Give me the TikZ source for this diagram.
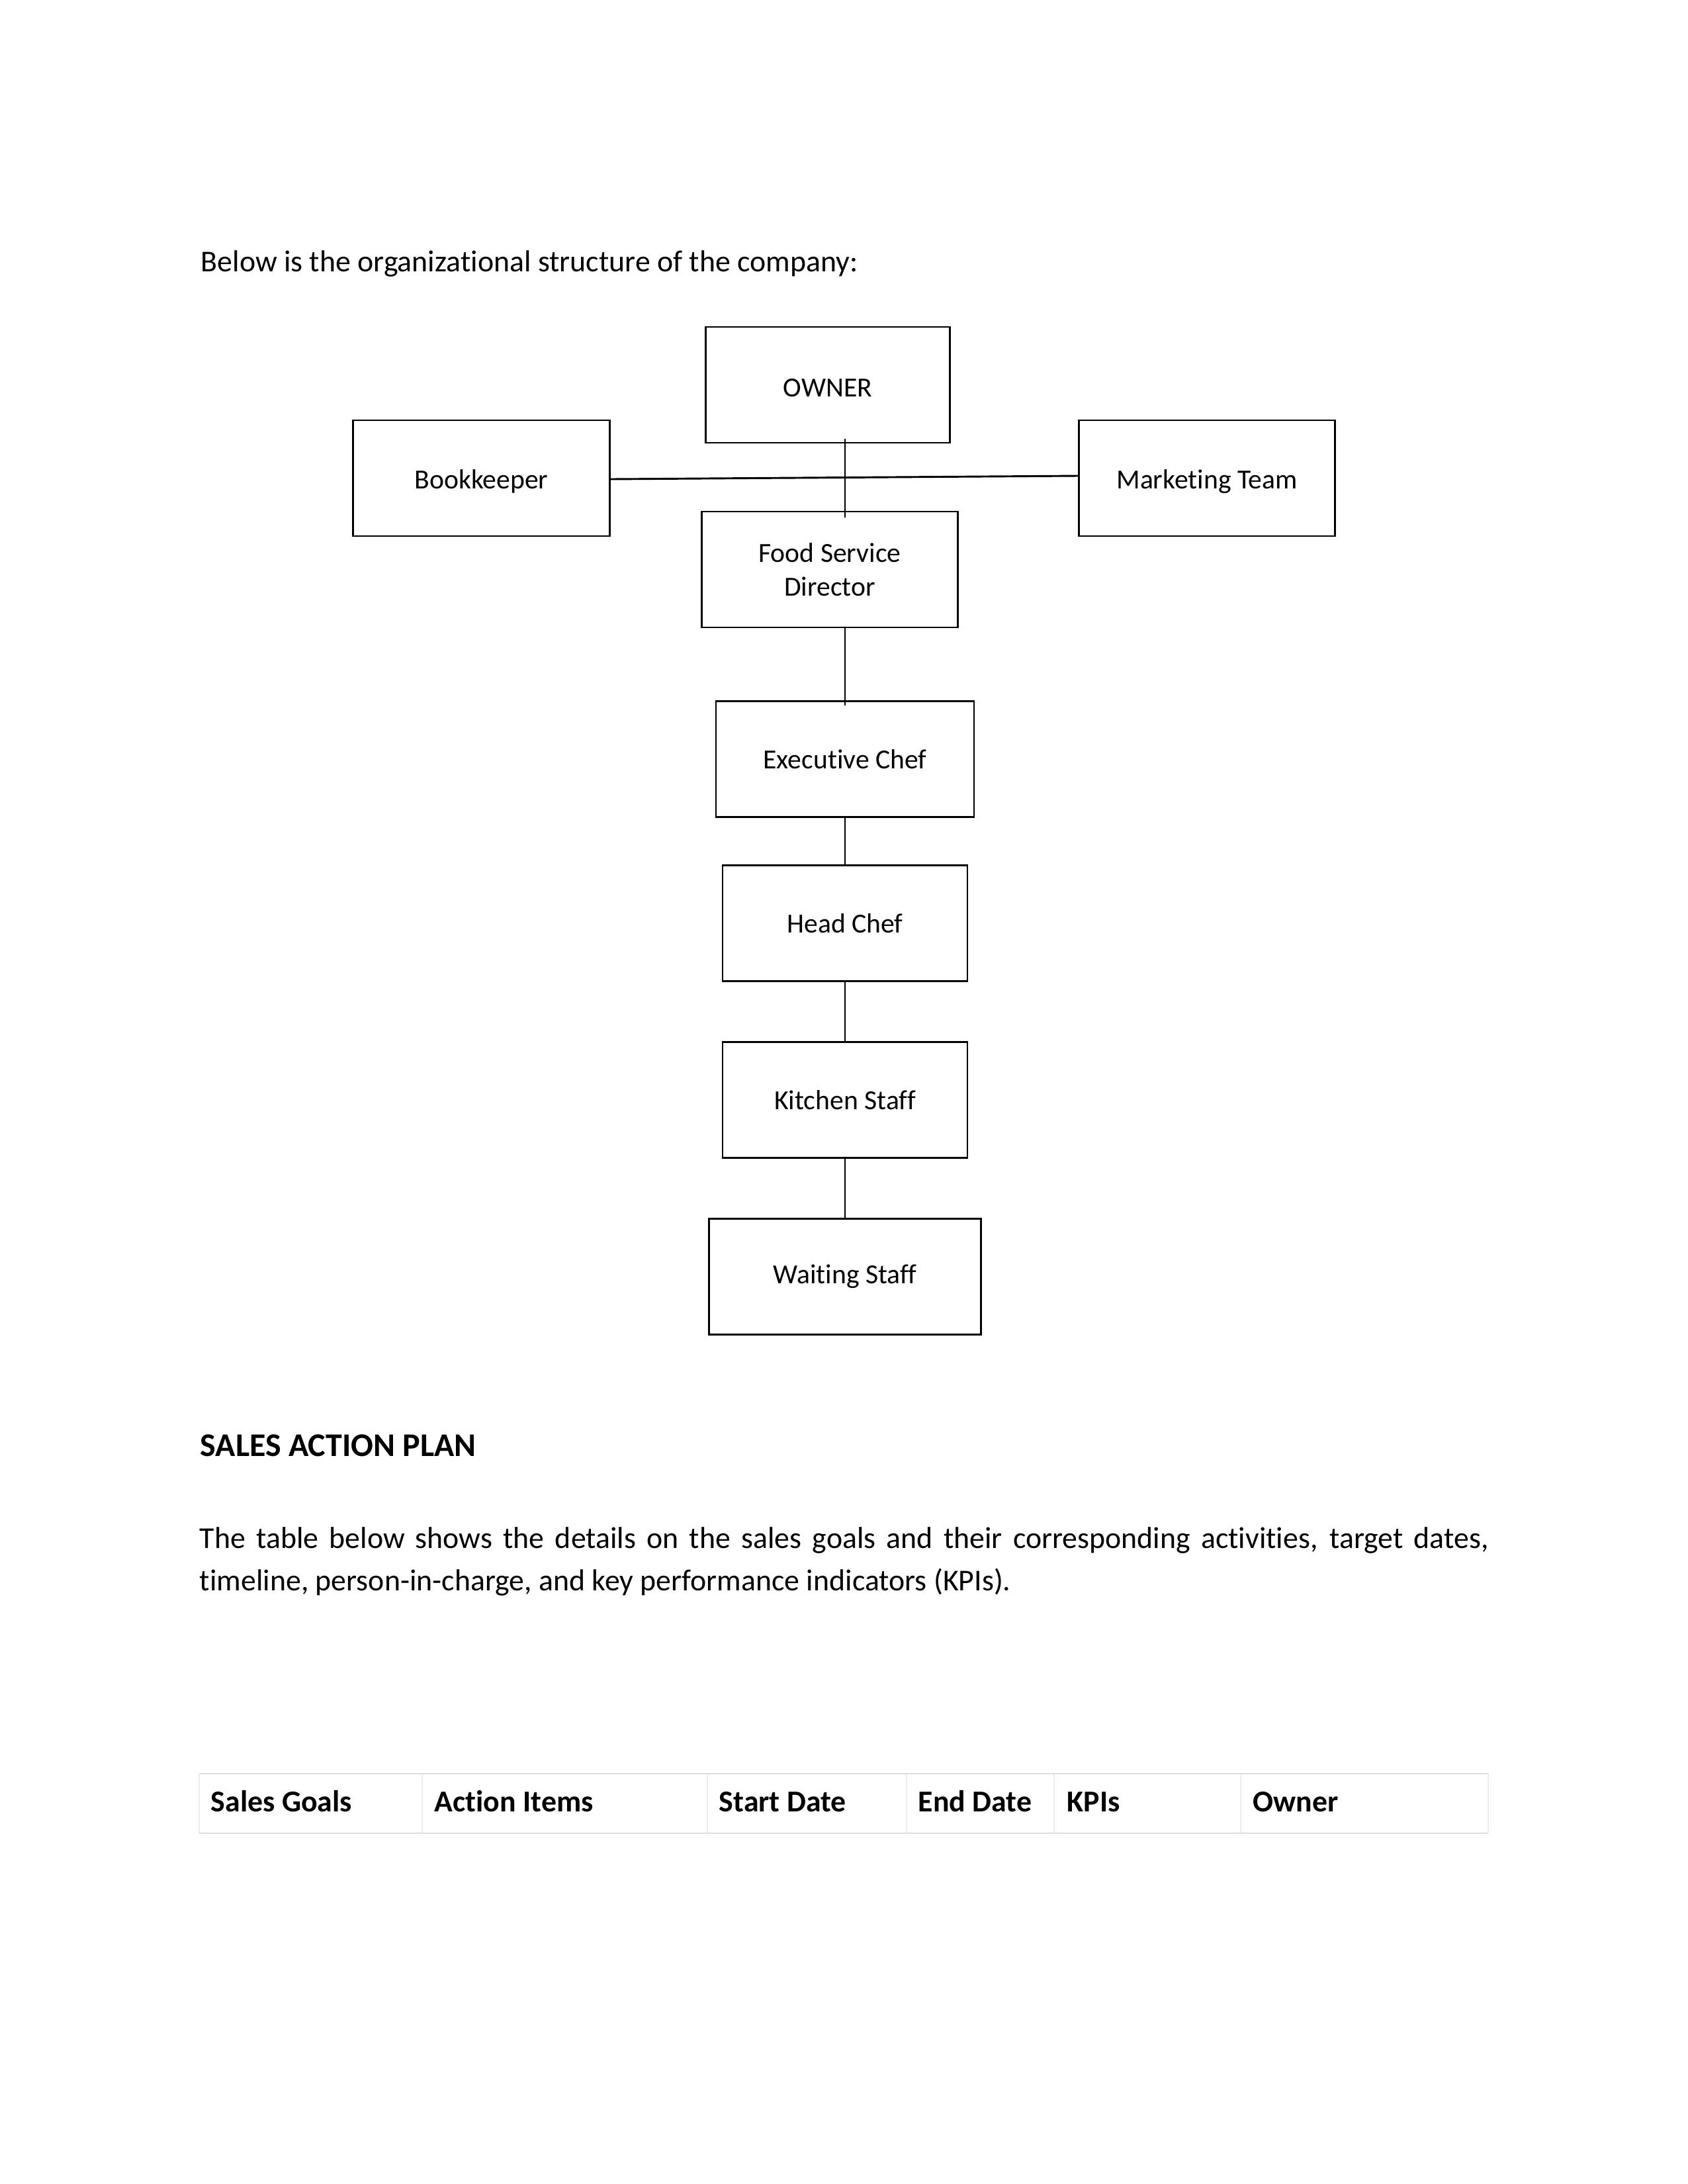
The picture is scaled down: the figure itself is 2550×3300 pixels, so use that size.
\documentclass[tikz,border=0pt]{standalone}
\usepackage{fontspec}
\setmainfont{Carlito}[RawFeature={-liga;-clig;-calt;-dlig}]
\usetikzlibrary{calc}
\newcommand{\lowertxt}[1]{\raisebox{-1.2pt}[\height][\depth]{#1}}
\begin{document}
\begin{tikzpicture}[x=0.24pt,y=-0.24pt,
  orgbox/.style={draw=black,line width=0.7pt,minimum height=42pt,inner sep=0pt,align=center,
    font=\fontsize{10}{12.2}\selectfont},
  link/.style={draw=black,line width=0.7pt},
  bodytext/.style={inner sep=0pt,anchor=base west,font=\fontsize{11}{13.4}\selectfont},
  headtext/.style={inner sep=0pt,anchor=base west,font=\fontsize{11}{13.4}\selectfont\bfseries},
  outerrule/.style={draw={rgb,255:red,221;green,221;blue,221},line width=0.55pt},
  innerrule/.style={draw={rgb,255:red,236;green,236;blue,236},line width=0.3pt}]
\useasboundingbox[fill=white] (0,0) rectangle (2550,3300);

\node[bodytext] (intro) at (303,410) {Below is the organizational structure of the company:};

% org chart
\node[orgbox,minimum width=88.6pt] (owner) at (1251,581.5) {\lowertxt{OWNER}};
\node[orgbox,minimum width=93.1pt] (bk) at (727.5,722.5) {\lowertxt{Bookkeeper}};
\node[orgbox,minimum width=92.9pt] (mkt) at (1824,722.5) {\lowertxt{Marketing Team}};
\node[orgbox,minimum width=92.9pt] (fsd) at (1254,860.5) {Food Service\\Director};
\node[orgbox,minimum width=93.6pt] (exec) at (1277,1147) {Executive Chef};
\node[orgbox,minimum width=88.8pt] (head) at (1277,1395) {Head Chef};
\node[orgbox,minimum width=88.8pt] (kitchen) at (1277,1662) {Kitchen Staff};
\node[orgbox,minimum width=98.8pt] (waiting) at (1277,1929) {Waiting Staff};
\coordinate (spine) at (1277,0);

\draw[link,shorten <=-1.7pt,shorten >=-2.6pt] (owner.south -| spine) -- (fsd.north -| spine);
\draw[link] ($(bk.east)+(0,1.5)$) -- ($(mkt.west)+(0,-3.5)$);
\draw[link,shorten >=-2pt] (fsd.south -| spine) -- (exec.north);
\draw[link] (exec.south) -- (head.north);
\draw[link] (head.south) -- (kitchen.north);
\draw[link] (kitchen.south) -- (waiting.north);

% heading and paragraph
\node[inner sep=0pt,anchor=base west,font=\fontsize{12}{14.6}\selectfont\bfseries] (heading) at (302,2200) {SALES ACTION PLAN};
\node[inner sep=0pt,anchor=north west,text width=467.5pt,align=justify,font=\fontsize{11}{15.4}\selectfont] (para) at (301,2307)
 {\noindent The table below shows the details on the sales goals and their corresponding activities, target dates,\linebreak
 timeline, person-in-charge, and key performance indicators (KPIs).};

% table
\draw[innerrule] (301,2680) -- (301,2770);
\draw[innerrule] (638,2680) -- (638,2770);
\draw[innerrule] (1069,2680) -- (1069,2770);
\draw[innerrule] (1370,2680) -- (1370,2770);
\draw[innerrule] (1593,2680) -- (1593,2770);
\draw[innerrule] (1875,2680) -- (1875,2770);
\draw[innerrule] (2249,2680) -- (2249,2770);
\draw[outerrule] (301,2680) -- (2249,2680);
\draw[outerrule] (301,2770) -- (2249,2770);
\node[headtext] (c1) at (318,2737) {Sales Goals};
\node[headtext] (c2) at (656,2737) {Action Items};
\node[headtext] (c3) at (1086,2737) {Start Date};
\node[headtext] (c4) at (1387,2737) {End Date};
\node[headtext] (c5) at (1612,2737) {KPIs};
\node[headtext] (c6) at (1893,2737) {Owner};
\end{tikzpicture}
\end{document}
